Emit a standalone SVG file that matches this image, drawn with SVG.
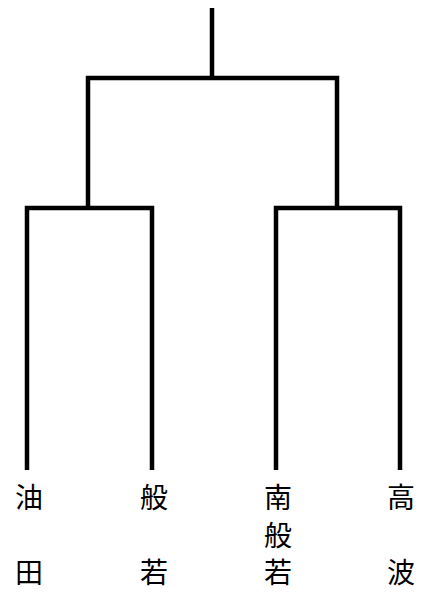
<svg xmlns="http://www.w3.org/2000/svg" width="425" height="592" viewBox="0 0 425 592">
<style>
.ln{fill:none;stroke:#000;stroke-width:4.5;stroke-linejoin:miter;stroke-linecap:butt}
.lb{font-family:"Noto Sans CJK JP","Noto Sans CJK SC",sans-serif;font-size:28px;fill:#000;text-anchor:middle;dominant-baseline:central}
</style>
<rect width="425" height="592" fill="#fff"/>
<g id="connectors">
<path class="ln" d="M212,8V78"/>
<path class="ln" d="M88,206V78H337V206"/>
<path class="ln" d="M27,470V208H152V470"/>
<path class="ln" d="M276,470V208H400V470"/>
</g>
<g id="n1"><text class="lb" x="29" y="496">油</text><text class="lb" x="29" y="571">田</text></g>
<g id="n2"><text class="lb" x="154" y="496">般</text><text class="lb" x="154" y="571">若</text></g>
<g id="n3"><text class="lb" x="278" y="496">南</text><text class="lb" x="278" y="534">般</text><text class="lb" x="278" y="571">若</text></g>
<g id="n4"><text class="lb" x="401" y="496">高</text><text class="lb" x="401" y="571">波</text></g>
</svg>
